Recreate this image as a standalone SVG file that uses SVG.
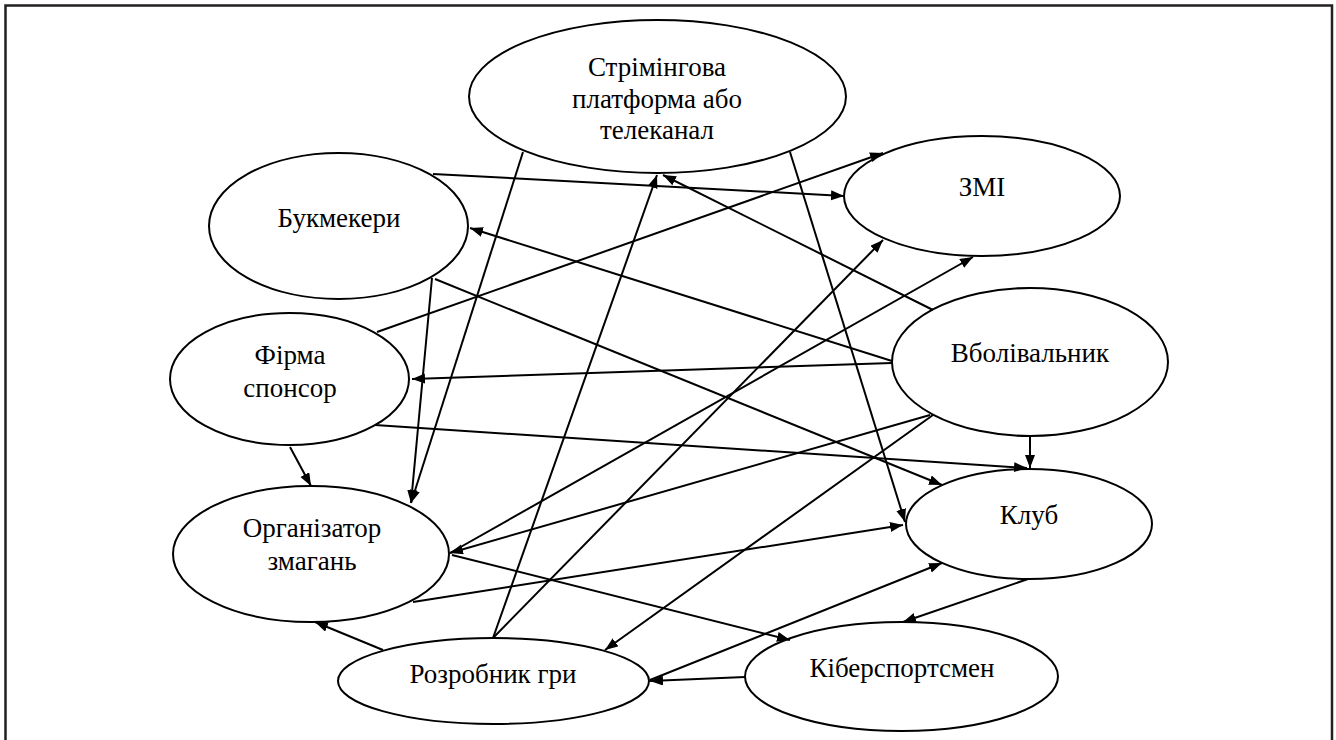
<svg xmlns="http://www.w3.org/2000/svg" width="1336" height="740" viewBox="0 0 1336 740">
<style>
.n ellipse{fill:#fff;stroke:#000;stroke-width:2}
.n text{font-family:"Liberation Serif","Times New Roman",serif;font-size:27px;fill:#000;text-anchor:middle}
.e line{stroke:#000;stroke-width:2;fill:none}
.a{marker-end:url(#arr)}
</style>
<defs>
<marker id="arr" markerUnits="userSpaceOnUse" markerWidth="14" markerHeight="11" refX="13" refY="5" orient="auto">
<path d="M0,0 L13,5 L0,10 z" fill="#000"/>
</marker>
</defs>
<rect x="5.5" y="5.5" width="1326.5" height="780" fill="#fff" stroke="#231f20" stroke-width="2.5"/>
<g id="nodes">
<g id="n-stream" class="n"><ellipse cx="657.5" cy="96.5" rx="188.5" ry="76.5"/><text x="657" y="76">Стрімінгова</text><text x="657" y="108">платформа або</text><text x="657" y="139">телеканал</text></g>
<g id="n-bookmakers" class="n"><ellipse cx="338.5" cy="226" rx="129.5" ry="73"/><text x="339" y="227">Букмекери</text></g>
<g id="n-media" class="n"><ellipse cx="982" cy="196" rx="138" ry="60"/><text x="982" y="196">ЗМІ</text></g>
<g id="n-sponsor" class="n"><ellipse cx="289.5" cy="379" rx="119.5" ry="66"/><text x="290" y="364">Фірма</text><text x="290" y="397">спонсор</text></g>
<g id="n-fan" class="n"><ellipse cx="1030" cy="362" rx="138" ry="74"/><text x="1030" y="362">Вболівальник</text></g>
<g id="n-organizer" class="n"><ellipse cx="311" cy="554" rx="138" ry="68"/><text x="312" y="537">Організатор</text><text x="312" y="570">змагань</text></g>
<g id="n-club" class="n"><ellipse cx="1029" cy="524" rx="123" ry="55"/><text x="1029" y="524">Клуб</text></g>
<g id="n-developer" class="n"><ellipse cx="493.5" cy="681" rx="155.5" ry="43"/><text x="493" y="683">Розробник гри</text></g>
<g id="n-player" class="n"><ellipse cx="901.5" cy="676.5" rx="156.5" ry="54.5"/><text x="902" y="677">Кіберспортсмен</text></g>
</g>
<g id="connectors" class="e">
<line class="a" x1="433" y1="174" x2="844" y2="196"/>
<line class="a" x1="377" y1="332" x2="883" y2="153"/>
<line class="a" x1="933" y1="310" x2="663" y2="175"/>
<line class="a" x1="493" y1="638" x2="657" y2="175"/>
<line class="a" x1="523" y1="152" x2="411" y2="503"/>
<line class="a" x1="432" y1="278" x2="411" y2="503"/>
<line class="a" x1="290" y1="447" x2="311" y2="486"/>
<line class="a" x1="375" y1="425" x2="1027" y2="468"/>
<line class="a" x1="1030" y1="436" x2="1030" y2="468"/>
<line class="a" x1="435" y1="279" x2="942" y2="485"/>
<line class="a" x1="892" y1="361" x2="470" y2="228"/>
<line class="a" x1="892" y1="363" x2="412" y2="379"/>
<line class="a" x1="930" y1="415" x2="450" y2="553"/>
<line class="a" x1="450" y1="553" x2="973" y2="257"/>
<line class="a" x1="493" y1="638" x2="883" y2="240"/>
<line class="a" x1="933" y1="415" x2="605" y2="650"/>
<line class="a" x1="790" y1="152" x2="905" y2="522"/>
<line class="a" x1="413" y1="602" x2="903" y2="525"/>
<line class="a" x1="452" y1="555" x2="790" y2="640"/>
<line class="a" x1="650" y1="680" x2="942" y2="563"/>
<line class="a" x1="745" y1="677" x2="650" y2="681"/>
<line class="a" x1="1028" y1="579" x2="903" y2="622"/>
<line class="a" x1="383" y1="650" x2="315" y2="622"/>
</g>
</svg>
